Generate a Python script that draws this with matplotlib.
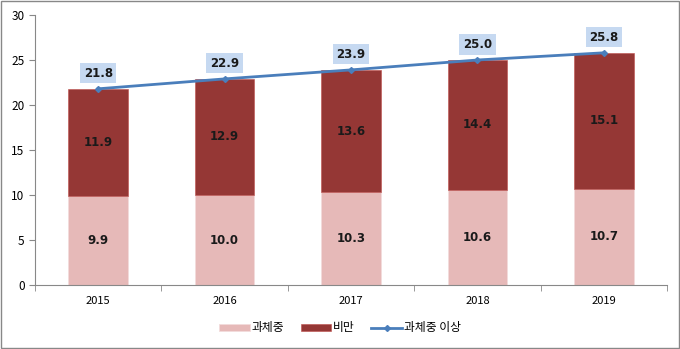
import matplotlib
matplotlib.use("Agg")
import matplotlib.pyplot as plt
import numpy as np

plt.rcParams['font.family'] = ['Noto Sans CJK KR', 'DejaVu Sans']

years = ['2015', '2016', '2017', '2018', '2019']
overweight = [9.9, 10.0, 10.3, 10.6, 10.7]
obese = [11.9, 12.9, 13.6, 14.4, 15.1]
total = [21.8, 22.9, 23.9, 25.0, 25.8]
yticks = [0, 5, 10, 15, 20, 25, 30]

fig = plt.figure(figsize=(6.8, 3.49), dpi=100)
ax = fig.add_axes([35/680, 64/349, 632/680, 270/349])
x = np.arange(len(years))
w = 0.47
b1 = ax.bar(x, overweight, w, color='#e6b9b8', edgecolor='#f2dcdb', linewidth=0.6, label='과체중')
b2 = ax.bar(x, obese, w, bottom=overweight, color='#953735', edgecolor='#c0504d', linewidth=0.4, label='비만')
l1, = ax.plot(x, total, color='#4a7ebb', lw=2, marker='D', ms=3, label='과체중 이상')

for i in range(len(years)):
    ax.text(x[i], overweight[i]/2, f'{overweight[i]:.1f}', ha='center', va='center',
            fontsize=8.5, fontweight='bold', color='#1a1a1a', family='DejaVu Sans')
    ax.text(x[i], overweight[i] + obese[i]/2, f'{obese[i]:.1f}', ha='center', va='center',
            fontsize=8.5, fontweight='bold', color='#1a1a1a', family='DejaVu Sans')
    ax.text(x[i], total[i] + 1.0, f'{total[i]:.1f}', ha='center', va='bottom',
            fontsize=8.5, fontweight='bold', color='#1a1a1a', family='DejaVu Sans',
            bbox=dict(boxstyle='square,pad=0.3', fc='#c6d9f1', ec='none'))

ax.set_xlim(-0.5, 4.5)
ax.set_ylim(0, 30)
ax.set_yticks(yticks)
ax.set_xticks(x)
ax.set_xticklabels(years)
ax.set_xticks(np.arange(-0.5, 5, 1), minor=True)
ax.tick_params(axis='x', which='major', length=0, labelsize=8, pad=8)
ax.tick_params(axis='x', which='minor', length=4, color='#888888')
ax.tick_params(axis='y', length=4, color='#888888', labelsize=8.5)
for s in ['top', 'right']:
    ax.spines[s].set_visible(False)
for s in ['left', 'bottom']:
    ax.spines[s].set_color('#888888')

fig.legend([b1, b2, l1], ['과체중', '비만', '과체중 이상'], loc='center',
           bbox_to_anchor=(0.5, 21/349), ncol=3, frameon=False,
           fontsize=8.5, handlelength=2.6, handleheight=0.6, columnspacing=1.4, handletextpad=0.15)

fig.patches.append(plt.Rectangle((0.002, 0.003), 0.996, 0.994, transform=fig.transFigure,
                                 fill=False, ec='#888888', lw=1))
fig.savefig('out.png', dpi=100)
